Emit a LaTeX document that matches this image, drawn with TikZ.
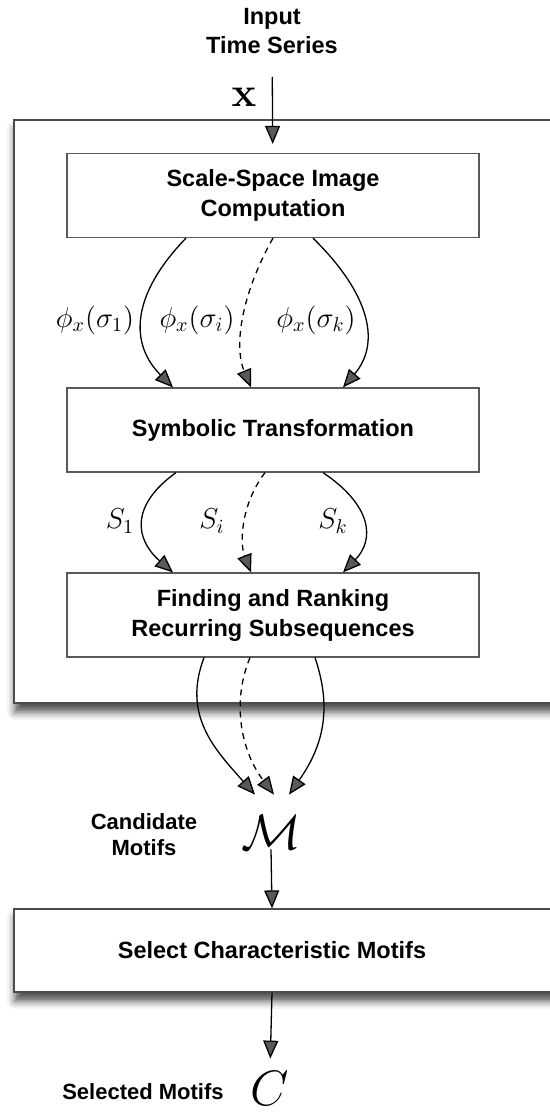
\documentclass[tikz,border=0pt]{standalone}
\usepackage[no-math]{fontspec}
\setmainfont{Liberation Sans}
\usetikzlibrary{positioning, arrows.meta, shadows.blur}

\begin{document}
\begin{tikzpicture}[x=0.5pt, y=-0.5pt,
    box/.style={rectangle, draw=black!65, line width=0.6pt, fill=white, minimum width=206pt, minimum height=42pt, align=center, font=\fontsize{11.75}{15}\selectfont\bfseries},
    frame/.style={draw=black!70, line width=1pt, fill=white, blur shadow={shadow xshift=0.5pt, shadow yshift=-4.5pt, shadow blur radius=4pt, shadow opacity=70}},
    txt/.style={align=center, font=\fontsize{11}{13}\selectfont\bfseries},
    flow/.style={-{Triangle[length=9pt,width=7.5pt]}, line width=0.65pt},
    flowd/.style={flow, dash pattern=on 3pt off 2.5pt},
    lbl/.style={font=\Large}]
    \useasboundingbox (0,0) rectangle (550,1112);
    \clip (0,0) rectangle (550,1112);

    % grosser Rahmen
    \draw[frame] (14,120) rectangle (650,703);

    % Eingabe
    \node[txt, font=\fontsize{11.75}{14.5}\selectfont\bfseries] (input) at (272,31) {Input\\Time Series};
    \node[font=\huge] (xvec) at (244,97) {$\mathbf{x}$};

    % Verarbeitungsschritte
    \node[box] (scale) at (273,195.5) {Scale-Space Image\\Computation};
    \node[box] (symb) at (273,430) {Symbolic Transformation};
    \node[box] (rank) at (273,615) {Finding and Ranking\\Recurring Subsequences};

    \draw[flow, shorten <=8pt, shorten >=4.5pt] (input) -- (scale);

    % Skalen
    \draw[flow] ([xshift=-43.5pt]scale.south) .. controls +(-56,58) and +(-43,-43) .. ([xshift=-50pt]symb.north);
    \draw[flowd] (scale.south) .. controls +(-30,53) and +(-18,-43) .. ([xshift=-11pt]symb.north);
    \draw[flow] ([xshift=20pt]scale.south) .. controls +(59,58) and +(37,-43) .. ([xshift=35pt]symb.north);
    \node[lbl] (phi1) at (95,320) {$\phi_x(\sigma_1)$};
    \node[lbl] (phii) at (197,320) {$\phi_x(\sigma_i)$};
    \node[lbl] (phik) at (316,320) {$\phi_x(\sigma_k)$};

    % Symbolfolgen
    \draw[flow] ([xshift=-48.5pt]symb.south) .. controls +(-46,33) and +(-38,-33) .. ([xshift=-50pt]rank.north);
    \draw[flowd] ([xshift=-4pt]symb.south) .. controls +(-25,33) and +(-11,-28) .. ([xshift=-11pt]rank.north);
    \draw[flow] ([xshift=25pt]symb.south) .. controls +(49,33) and +(32,-33) .. ([xshift=35pt]rank.north);
    \node[lbl] (s1) at (120,521) {$S_1$};
    \node[lbl] (si) at (212,521) {$S_i$};
    \node[lbl] (sk) at (333,521) {$S_k$};

    % Kandidaten
    \node[font=\Huge, inner sep=0pt] (cand) at (271,832) {$\mathcal{M}$};
    \node[txt] (candtxt) at (144,835) {Candidate\\Motifs};
    \draw[flow] ([xshift=-34.5pt]rank.south) .. controls +(-22,58) and +(-40,-45) .. ([xshift=-8pt,yshift=10pt]cand.north);
    \draw[flowd] ([xshift=-11.5pt]rank.south) .. controls +(-18,43) and +(-34,-45) .. ([xshift=1.5pt,yshift=10pt]cand.north);
    \draw[flow] ([xshift=21pt]rank.south) .. controls +(18,53) and +(33,-47) .. ([xshift=9pt,yshift=10pt]cand.north);

    % Auswahl
    \draw[frame] (14,909) rectangle (650,992);
    \node[box, draw=none, fill=none, inner sep=0pt, minimum height=41.5pt] (sel) at (272,950.5) {Select Characteristic Motifs};
    \draw[flow] (cand.south) -- (sel.north);

    \node[font=\Huge, inner sep=0pt] (res) at (270,1088) {$C$};
    \node[txt] (restxt) at (143,1092) {Selected Motifs};
    \draw[flow, shorten >=6pt] (sel.south) -- (res.north);
\end{tikzpicture}
\end{document}
